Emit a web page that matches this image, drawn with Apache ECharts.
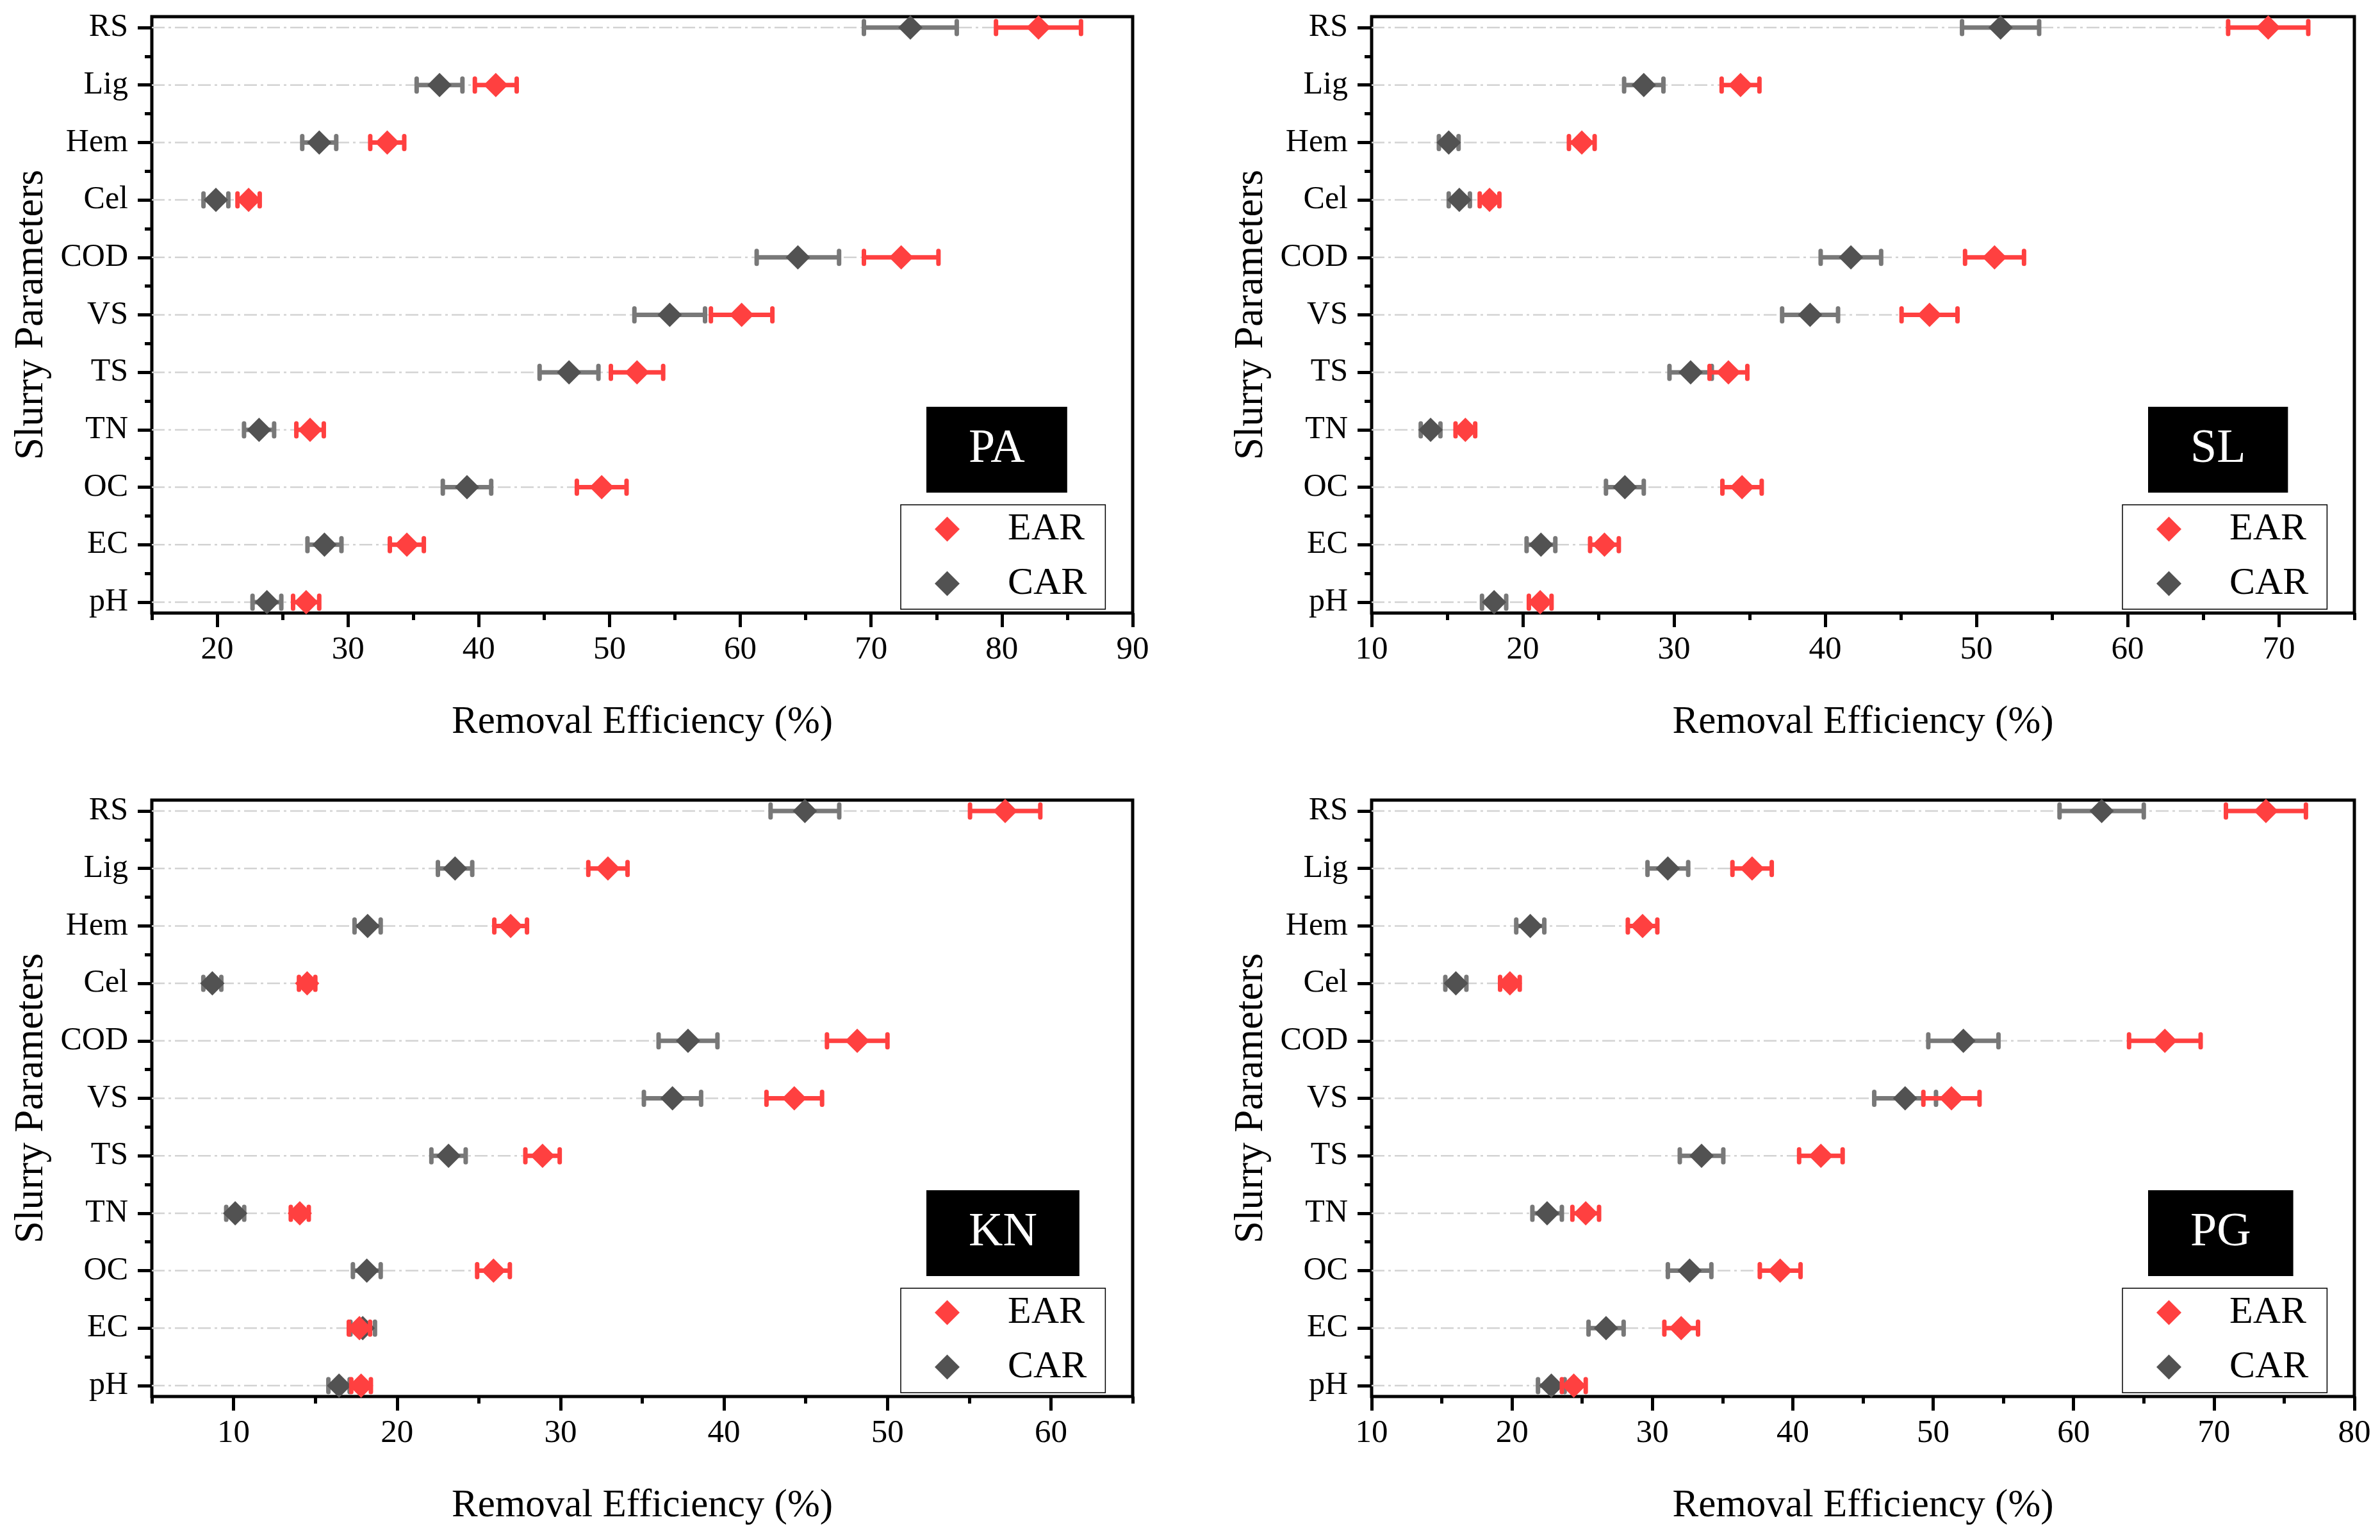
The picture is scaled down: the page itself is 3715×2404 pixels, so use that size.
<!DOCTYPE html>
<html>
<head>
<meta charset="utf-8">
<title>Removal efficiency</title>
<script src="https://cdn.jsdelivr.net/npm/echarts@6/dist/echarts.min.js"></script>
<style>
html, body { margin: 0; padding: 0; background: #fff; }
#chart { width: 3715px; height: 2404px; }
</style>
</head>
<body>
<div id="chart"></div>
<script>
// categories, bottom to top
var params = ['pH', 'EC', 'OC', 'TN', 'TS', 'VS', 'COD', 'Cel', 'Hem', 'Lig', 'RS'];

// PA
var paEar    = [26.8, 34.5, 49.4, 27.1, 52.1, 60.1, 72.3, 22.4, 33.0, 41.3, 82.8];
var paEarErr = [1.0, 1.3, 1.9, 1.05, 2.0, 2.35, 2.85, 0.85, 1.3, 1.6, 3.25];
var paCar    = [23.8, 28.2, 39.1, 23.2, 46.9, 54.6, 64.4, 19.9, 27.8, 37.0, 73.0];
var paCarErr = [1.1, 1.3, 1.85, 1.15, 2.25, 2.7, 3.15, 0.95, 1.3, 1.75, 3.55];
var paTicks  = [20, 30, 40, 50, 60, 70, 80, 90];

// SL
var slEar    = [21.15, 25.4, 34.5, 16.2, 33.6, 46.9, 51.2, 17.8, 23.9, 34.4, 69.3];
var slEarErr = [0.75, 0.95, 1.3, 0.65, 1.25, 1.85, 1.95, 0.65, 0.85, 1.25, 2.65];
var slCar    = [18.1, 21.2, 26.75, 13.9, 31.1, 39.0, 41.7, 15.8, 15.1, 28.0, 51.6];
var slCarErr = [0.8, 0.95, 1.25, 0.65, 1.4, 1.85, 2.0, 0.7, 0.65, 1.3, 2.55];
var slTicks  = [10, 20, 30, 40, 50, 60, 70];

// KN
var knEar    = [17.8, 17.7, 25.9, 14.05, 28.9, 44.3, 48.15, 14.5, 26.95, 32.9, 57.2];
var knEarErr = [0.6, 0.65, 1.0, 0.55, 1.05, 1.7, 1.85, 0.5, 1.0, 1.2, 2.15];
var knCar    = [16.45, 17.9, 18.15, 10.1, 23.15, 36.85, 37.8, 8.7, 18.2, 23.55, 44.95];
var knCarErr = [0.65, 0.75, 0.85, 0.55, 1.05, 1.75, 1.8, 0.55, 0.8, 1.05, 2.1];
var knTicks  = [10, 20, 30, 40, 50, 60];

// PG
var pgEar    = [24.4, 32.05, 39.1, 25.25, 42.0, 51.3, 66.5, 19.85, 29.3, 37.1, 73.7];
var pgEarErr = [0.85, 1.2, 1.45, 0.95, 1.55, 2.0, 2.55, 0.7, 1.05, 1.4, 2.85];
var pgCar    = [22.8, 26.7, 32.65, 22.5, 33.5, 48.0, 52.15, 16.0, 21.3, 31.1, 62.0];
var pgCarErr = [0.95, 1.25, 1.55, 1.05, 1.55, 2.2, 2.5, 0.75, 1.0, 1.45, 3.0];
var pgTicks  = [10, 20, 30, 40, 50, 60, 70, 80];

var FONT = 'Liberation Serif';
var RED = '#ff4040';
var DARK = '#525252';
var GREYBAR = '#787878';

var panels = [
    {label: 'PA', ear: paEar, earErr: paEarErr, car: paCar, carErr: paCarErr, ticks: paTicks, min: 15, max: 90, left: 237, top: 26, width: 1531},
    {label: 'SL', ear: slEar, earErr: slEarErr, car: slCar, carErr: slCarErr, ticks: slTicks, min: 10, max: 75, left: 2141, top: 26, width: 1534},
    {label: 'KN', ear: knEar, earErr: knEarErr, car: knCar, carErr: knCarErr, ticks: knTicks, min: 5, max: 65, left: 237, top: 1249, width: 1531},
    {label: 'PG', ear: pgEar, earErr: pgEarErr, car: pgCar, carErr: pgCarErr, ticks: pgTicks, min: 10, max: 80, left: 2141, top: 1249, width: 1534}
];
var GRID_H = 931;

// error bar with caps
function errRender(color) {
    return function (p, api) {
        var v = api.value(0), y = api.value(1), e = api.value(2);
        var a = api.coord([v - e, y]);
        var b = api.coord([v + e, y]);
        var h = 10;
        var cap = {stroke: color, lineWidth: 7, lineCap: 'round'};
        return {
            type: 'group',
            children: [
                {type: 'line', shape: {x1: a[0], y1: a[1], x2: b[0], y2: b[1]}, style: {stroke: color, lineWidth: 7}},
                {type: 'line', shape: {x1: a[0], y1: a[1] - h, x2: a[0], y2: a[1] + h}, style: cap},
                {type: 'line', shape: {x1: b[0], y1: b[1] - h, x2: b[0], y2: b[1] + h}, style: cap}
            ]
        };
    };
}

// light dash-dot line from the axis to the point
function dropRender(xMin) {
    return function (p, api) {
        var y = api.value(1);
        var a = api.coord([xMin, y]);
        var b = api.coord([api.value(0), y]);
        return {
            type: 'line',
            shape: {x1: a[0], y1: a[1], x2: b[0], y2: b[1]},
            style: {stroke: '#d3d3d3', lineWidth: 2.5, lineDash: [20, 6, 4, 6]}
        };
    };
}

var grids = [], xAxes = [], yAxes = [], series = [], legends = [], titles = [];

panels.forEach(function (pn, i) {
    grids.push({
        left: pn.left, top: pn.top, width: pn.width, height: GRID_H,
        show: true, borderColor: '#000', borderWidth: 5, backgroundColor: 'transparent'
    });

    var minors = [];
    for (var t = pn.min; t <= pn.max; t += 5) {
        if (t % 10 !== 0) minors.push(t);
    }
    var yMajor = params.map(function (c, k) { return k + 1; });
    var yMinor = [];
    for (var k = 1; k < params.length; k++) yMinor.push(k + 0.5);

    xAxes.push({
        type: 'value', gridIndex: i, min: pn.min, max: pn.max, position: 'bottom',
        axisLine: {show: false}, splitLine: {show: false},
        axisTick: {show: true, customValues: pn.ticks, length: 22, lineStyle: {color: '#000', width: 5}},
        axisLabel: {customValues: pn.ticks, margin: 32, fontSize: 51, color: '#000', fontFamily: FONT},
        name: 'Removal Efficiency (%)', nameLocation: 'middle', nameGap: 140,
        nameTextStyle: {fontSize: 61, color: '#000', fontFamily: FONT}
    });
    xAxes.push({
        type: 'value', gridIndex: i, min: pn.min, max: pn.max, position: 'bottom',
        axisLine: {show: false}, splitLine: {show: false},
        axisTick: {show: true, customValues: minors, length: 11, lineStyle: {color: '#000', width: 5}},
        axisLabel: {show: false}
    });

    yAxes.push({
        type: 'value', gridIndex: i, min: 0.81, max: 11.19, position: 'left',
        axisLine: {show: false}, splitLine: {show: false},
        axisTick: {show: true, customValues: yMajor, length: 22, lineStyle: {color: '#000', width: 5}},
        axisLabel: {
            customValues: yMajor, margin: 37, fontSize: 50, color: '#000', fontFamily: FONT,
            formatter: function (v) { return params[Math.round(v) - 1]; }
        },
        name: 'Slurry Parameters', nameLocation: 'middle', nameGap: 156,
        nameTextStyle: {fontSize: 63, color: '#000', fontFamily: FONT}
    });
    yAxes.push({
        type: 'value', gridIndex: i, min: 0.81, max: 11.19, position: 'left',
        axisLine: {show: false}, splitLine: {show: false},
        axisTick: {show: true, customValues: yMinor, length: 11, lineStyle: {color: '#000', width: 5}},
        axisLabel: {show: false}
    });

    var xi = i * 2, yi = i * 2;

    series.push({
        type: 'custom', name: 'drop', xAxisIndex: xi, yAxisIndex: yi, z: 1, silent: true,
        renderItem: dropRender(pn.min),
        data: params.map(function (c, k) { return [Math.max(pn.ear[k], pn.car[k]), k + 1]; })
    });
    series.push({
        type: 'custom', name: 'CAR err', xAxisIndex: xi, yAxisIndex: yi, z: 2, silent: true,
        renderItem: errRender(GREYBAR),
        data: pn.car.map(function (v, k) { return [v, k + 1, pn.carErr[k]]; })
    });
    series.push({
        type: 'scatter', name: 'CAR', xAxisIndex: xi, yAxisIndex: yi, z: 3,
        symbol: 'diamond', symbolSize: 38, itemStyle: {color: DARK, opacity: 1},
        data: pn.car.map(function (v, k) { return [v, k + 1]; })
    });
    series.push({
        type: 'custom', name: 'EAR err', xAxisIndex: xi, yAxisIndex: yi, z: 4, silent: true,
        renderItem: errRender(RED),
        data: pn.ear.map(function (v, k) { return [v, k + 1, pn.earErr[k]]; })
    });
    series.push({
        type: 'scatter', name: 'EAR', xAxisIndex: xi, yAxisIndex: yi, z: 5,
        symbol: 'diamond', symbolSize: 38, itemStyle: {color: RED, opacity: 1},
        data: pn.ear.map(function (v, k) { return [v, k + 1]; })
    });

    var gr = pn.left + pn.width;
    legends.push({
        data: ['EAR', 'CAR'], orient: 'vertical', left: gr - 362, top: pn.top + 762,
        icon: 'diamond', itemWidth: 39, itemHeight: 39, itemGap: 25,
        padding: [8, 29, 10, 53], borderColor: '#000', borderWidth: 1.5,
        selectedMode: false,
        textStyle: {fontSize: 60, color: '#000', fontFamily: FONT, padding: [0, 0, 0, 70]}
    });
    titles.push({
        text: pn.label, left: gr - 322, top: pn.top + 609,
        backgroundColor: '#000', padding: [30, 66],
        textStyle: {color: '#fff', fontSize: 74, fontWeight: 'normal', fontFamily: FONT}
    });
});

var option = {
    animation: false,
    backgroundColor: '#fff',
    textStyle: {fontFamily: FONT},
    title: titles,
    legend: legends,
    grid: grids,
    xAxis: xAxes,
    yAxis: yAxes,
    series: series
};

var chart = echarts.init(document.getElementById('chart'));
chart.setOption(option);
</script>
</body>
</html>
